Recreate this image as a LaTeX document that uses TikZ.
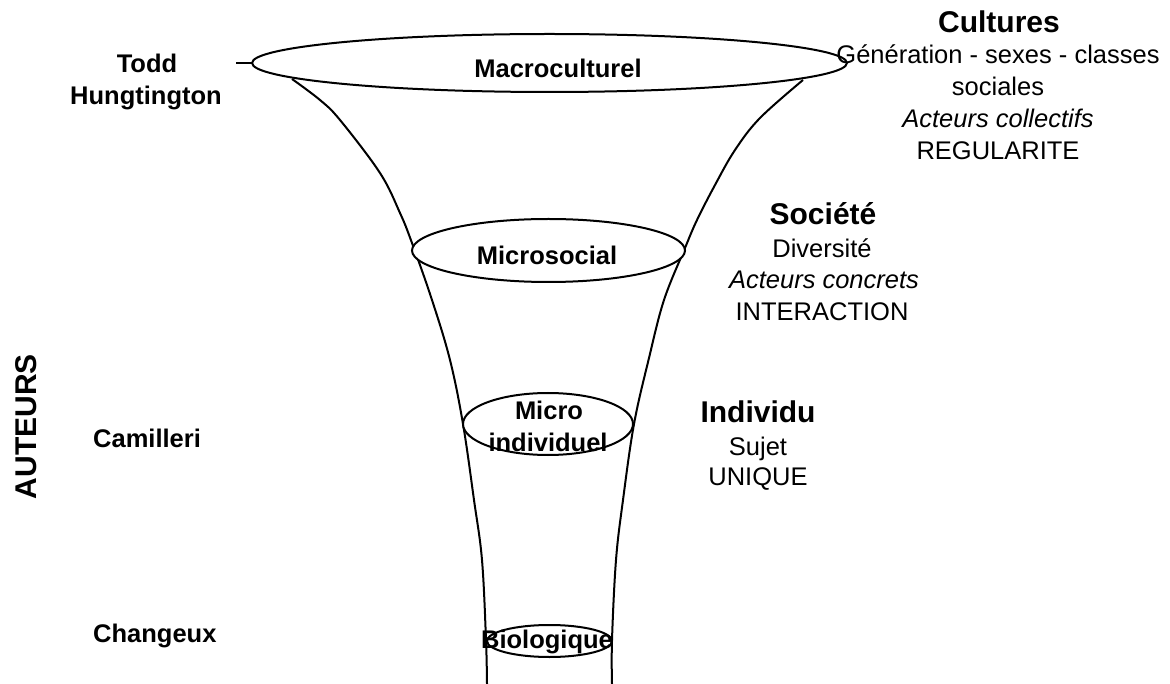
\documentclass[tikz,border=0pt]{standalone}
\usepackage{fontspec}
\setmainfont{Liberation Sans}
\begin{document}
\begin{tikzpicture}[x=1pt,y=-1pt,
  lbl/.style={font=\fontsize{25.5}{31}\selectfont\bfseries, inner sep=0pt, anchor=base},
  head/.style={font=\fontsize{30}{36}\selectfont\bfseries, inner sep=0pt, anchor=base},
  body/.style={font=\fontsize{25.5}{31}\selectfont, inner sep=0pt, anchor=base},
  ital/.style={font=\fontsize{25.5}{31}\selectfont\itshape, inner sep=0pt, anchor=base},
  funnel/.style={line width=2pt, line join=round},
  disc/.style={line width=2pt, fill=white}]
\useasboundingbox (0,0) rectangle (1170,684);

% funnel sides
\draw[funnel] plot[smooth, tension=0.6] coordinates {(292,79) (320,100) (340,120) (380,173) (400,213) (412,243) (432,300) (450,360) (463,424) (474,500) (482,560) (486,640) (487,684)};
\draw[funnel] plot[smooth, tension=0.6] coordinates {(803,80) (760,118) (735,150) (715,185) (697,220) (685,248) (664,300) (649,358) (634,424) (623,500) (616,560) (612,640) (612,684)};

% small tick at left of top ellipse
\coordinate (tickL) at (236,63);
\coordinate (tickR) at (252,63);
\draw[funnel] (tickL) -- (tickR);

% ellipses
\draw[disc] (549.5,63) ellipse [x radius=297.5pt, y radius=29pt];
\draw[disc] (548.5,250.5) ellipse [x radius=136.5pt, y radius=31.5pt];
\draw[disc] (548,424) ellipse [x radius=85pt, y radius=31pt];
\draw[disc] (549.5,641) ellipse [x radius=62.5pt, y radius=16pt];

% ellipse labels
\node[lbl] (macro) at (558,78) {Macroculturel};
\node[lbl] (micsoc) at (547,265) {Microsocial};
\node[lbl] (micro1) at (549,420) {Micro};
\node[lbl] (micro2) at (548,451) {individuel};
\node[lbl] (bio) at (547,648) {Biologique};

% authors
\node[lbl] (todd) at (147,73) {Todd};
\node[lbl] (hung) at (146,105) {Hungtington};
\node[lbl, anchor=base west] (cam) at (93,447) {Camilleri};
\node[lbl, anchor=base west] (chg) at (93,642) {Changeux};
\node[font=\fontsize{30}{36}\selectfont\bfseries, inner sep=0pt, rotate=90] (aut) at (26,426.5) {AUTEURS};

% Cultures block
\node[head] (cult) at (999,33) {Cultures};
\node[body] (gen) at (998,64) {Génération - sexes - classes};
\node[body] (soc) at (998,96) {sociales};
\node[ital] (acol) at (998,128) {Acteurs collectifs};
\node[body] (reg) at (998,160) {REGULARITE};

% Societe block
\node[head] (socie) at (823,225) {Société};
\node[body] (div) at (822,258) {Diversité};
\node[ital] (acon) at (824,289) {Acteurs concrets};
\node[body] (inter) at (822,321) {INTERACTION};

% Individu block
\node[head] (indiv) at (758,422) {Individu};
\node[body] (suj) at (758,455) {Sujet};
\node[body] (uniq) at (758,485) {UNIQUE};
\end{tikzpicture}
\end{document}
